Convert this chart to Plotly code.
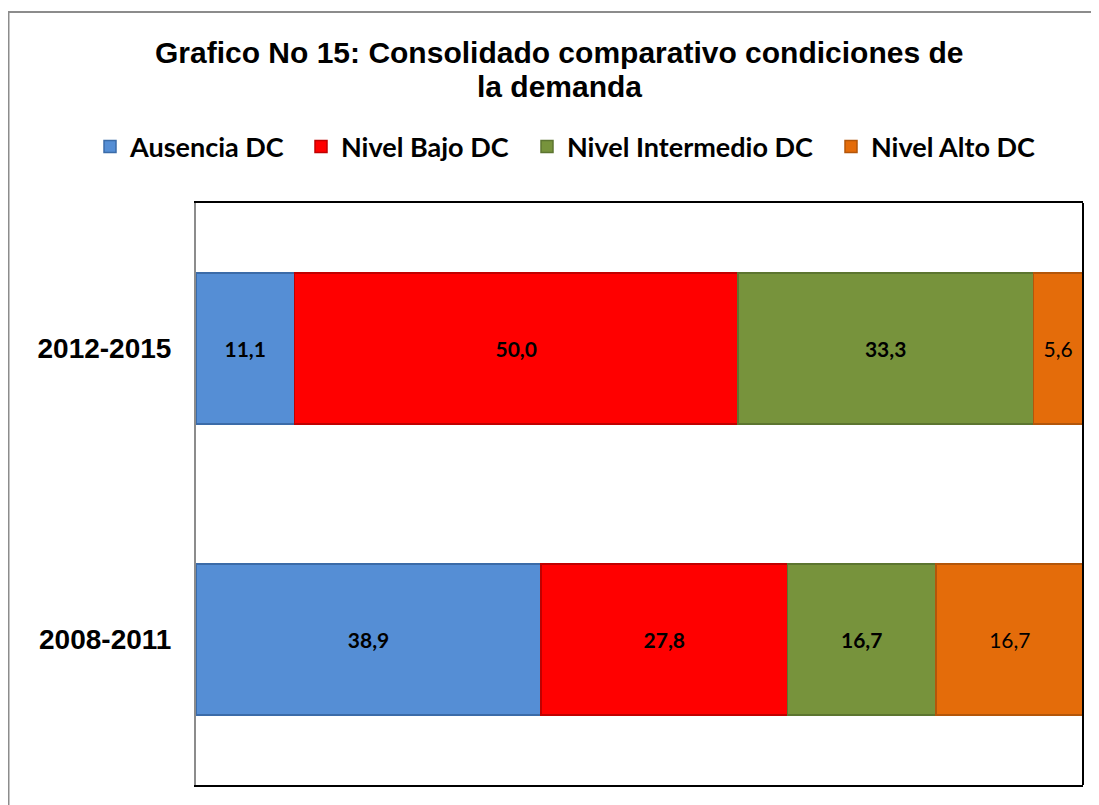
import plotly.graph_objects as go

categories = ["2008-2011", "2012-2015"]
series_names = ["Ausencia DC", "Nivel Bajo DC", "Nivel Intermedio DC", "Nivel Alto DC"]
ausencia = [38.9, 11.1]
bajo = [27.8, 50.0]
intermedio = [16.7, 33.3]
alto = [16.7, 5.6]
title_lines = ["Grafico No 15: Consolidado comparativo condiciones de", "la demanda"]

values = [ausencia, bajo, intermedio, alto]
fills = ["#558ED5", "#FF0000", "#77933C", "#E46C0A"]
edges = ["#3B6BA8", "#C00000", "#5C7530", "#B3560A"]
label_weights = ["bold", "bold", "bold", "normal"]
legend_ids = ["legend", "legend2", "legend3", "legend4"]
# text start of each legend entry (figure px)
legend_text_x = [122, 333, 559, 863]

W, H = 1099, 805
L, R, T, B = 188, 24, 195, 28
PW, PH = W - L - R, H - T - B

fig = go.Figure()
for name, vals, fc, ec, w, lg in zip(series_names, values, fills, edges, label_weights, legend_ids):
    fig.add_trace(go.Bar(
        y=categories, x=vals, name=name, orientation="h", legend=lg,
        marker=dict(color=fc, line=dict(color=ec, width=1.5)),
        texttemplate="%{x:.1f}", textposition="inside", insidetextanchor="middle",
        textfont=dict(family="Lato", size=21, color="black", weight=w),
        constraintext="none",
    ))

legend_common = dict(orientation="h", xanchor="left", yref="container", y=(H - 139) / H,
                     yanchor="middle", bgcolor="rgba(0,0,0,0)",
                     font=dict(family="Lato", size=27, color="black", weight="bold"),
                     itemwidth=30)
legends = {}
for lg, tx in zip(legend_ids, legend_text_x):
    legends[lg] = dict(legend_common, x=(tx - 40 - L) / PW)

title_y = [44, 78]  # figure px centers of each title line
annotations = [dict(text=t, xref="paper", yref="paper", x=(551 - L) / PW, y=(H - B - ty) / PH,
                    xanchor="center", yanchor="middle", showarrow=False,
                    font=dict(family="Arial", size=30, color="black", weight="bold"))
               for t, ty in zip(title_lines, title_y)]

fig.update_layout(
    width=W, height=H,
    barmode="stack", bargap=0.48,
    separators=",.",
    paper_bgcolor="white", plot_bgcolor="white",
    margin=dict(l=L, r=R, t=T, b=B),
    showlegend=True,
    xaxis=dict(range=[0, 100], showgrid=False, zeroline=False, showticklabels=False,
               showline=True, linecolor="black", linewidth=2, mirror=True, ticks=""),
    yaxis=dict(showgrid=False, zeroline=False, showline=True, linecolor="#8C8C8C", linewidth=2,
               ticks="", ticklabelstandoff=17,
               tickfont=dict(family="Arial", size=28, color="black", weight="bold")),
    annotations=annotations,
    shapes=[
        dict(type="line", xref="paper", yref="paper", x0=1, x1=1, y0=0, y1=1,
             line=dict(color="black", width=2)),
        dict(type="rect", xref="paper", yref="paper", x0=(0.5 - L) / PW, x1=1.2,
             y0=-0.2, y1=(H - B - 4) / PH, line=dict(color="#8C8C8C", width=2)),
    ],
    **legends,
)

fig.write_html("out.html")
